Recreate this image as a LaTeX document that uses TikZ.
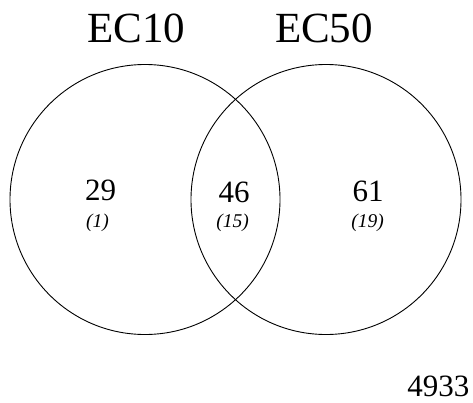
\documentclass[tikz,border=0pt]{standalone}
\usepackage{fontspec}
\setmainfont{Liberation Serif}
\begin{document}
\begin{tikzpicture}[x=1pt,y=-1pt,
  setcircle/.style={draw=black,line width=0.9pt},
  title/.style={anchor=base,font=\fontsize{43}{43}\selectfont,inner sep=0pt},
  count/.style={anchor=base,font=\fontsize{31}{31}\selectfont,inner sep=0pt},
  sub/.style={anchor=base,font=\itshape\fontsize{19.5}{19.5}\selectfont,inner sep=0pt}]
  \useasboundingbox (0,0) rectangle (473,402);
  % the two sets
  \node[setcircle,circle,minimum size=270pt,inner sep=0pt] (ec10) at (145,199.5) {};
  \node[setcircle,circle,minimum size=270pt,inner sep=0pt] (ec50) at (326,199.5) {};
  % set titles
  \node[title] (t10) at (136.5,42.5) {EC10};
  \node[title] (t50) at (324,42.5) {EC50};
  % region counts
  \node[count] (n29) at (100.5,200) {29};
  \node[sub]   (s1)  at (97.5,227) {(1)};
  \node[count] (n46) at (234,202.5) {46};
  \node[sub]   (s15) at (232.5,227) {(15)};
  \node[count] (n61) at (368,201.5) {61};
  \node[sub]   (s19) at (367.5,227) {(19)};
  % outside both sets
  \node[count,anchor=base east,text depth=0pt] (out) at (469.5,396.5) {4933};
\end{tikzpicture}
\end{document}
